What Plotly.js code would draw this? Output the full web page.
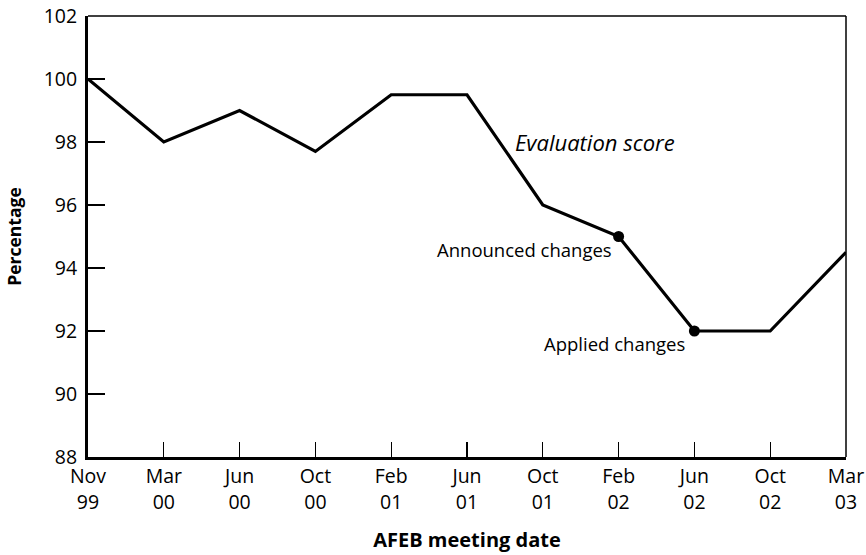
<!DOCTYPE html>
<html>
<head>
<meta charset="utf-8">
<script src="https://cdn.plot.ly/plotly-3.0.1.min.js"></script>
<style>html,body{margin:0;padding:0;background:#fff;}#chart{width:866px;height:555px;}</style>
</head>
<body>
<div id="chart"></div>
<script>
const categories = ["Nov 99","Mar 00","Jun 00","Oct 00","Feb 01","Jun 01","Oct 01","Feb 02","Jun 02","Oct 02","Mar 03"];
const tickLabels = ["Nov<br>99","Mar<br>00","Jun<br>00","Oct<br>00","Feb<br>01","Jun<br>01","Oct<br>01","Feb<br>02","Jun<br>02","Oct<br>02","Mar<br>03"];
const scores = [100, 98, 99, 97.7, 99.5, 99.5, 96, 95, 92, 92, 94.5];
const eventDates = ["Feb 02", "Jun 02"];
const eventScores = [95, 92];
const eventLabels = ["Announced changes", "Applied changes"];

const FONT = "Open Sans, Noto Sans, sans-serif";

const traces = [
  {x: categories, y: scores, type: "scatter", mode: "lines",
   line: {color: "#000", width: 3.2}, hoverinfo: "skip"},
  {x: eventDates, y: eventScores, type: "scatter", mode: "markers",
   marker: {color: "#000", size: 11}, hoverinfo: "skip"}
];

const layout = {
  width: 866, height: 555,
  margin: {l: 88, r: 20, t: 16, b: 98},
  paper_bgcolor: "#fff", plot_bgcolor: "#fff",
  showlegend: false,
  font: {family: FONT, color: "#000", size: 19},
  xaxis: {
    type: "category", categoryorder: "array", categoryarray: categories,
    range: [0, categories.length - 1],
    tickmode: "array", tickvals: categories, ticktext: tickLabels,
    ticks: "inside", ticklen: 15, tickwidth: 1.3, tickcolor: "#000",
    showline: true, linewidth: 3, linecolor: "#000",
    showgrid: false, zeroline: false,
    tickfont: {family: FONT, size: 19.5},
    title: {text: "<b>AFEB meeting date</b>", font: {family: FONT, size: 20}, standoff: 20}
  },
  yaxis: {
    range: [88, 102],
    tickmode: "array", tickvals: [88,90,92,94,96,98,100,102],
    ticks: "inside", ticklen: 17, tickwidth: 1.3, tickcolor: "#000",
    showline: true, linewidth: 3, linecolor: "#000",
    showgrid: false, zeroline: false,
    ticklabelstandoff: 4,
    tickfont: {family: FONT, size: 19.5},
    title: {text: "<b>Percentage</b>", font: {family: FONT, size: 17.5}, standoff: 18}
  },
  shapes: [
    {type: "line", xref: "paper", yref: "paper", x0: 0, x1: 1, y0: 1, y1: 1, line: {color: "#000", width: 1.5}},
    {type: "line", xref: "paper", yref: "paper", x0: 1, x1: 1, y0: 0, y1: 1, line: {color: "#000", width: 1.5}}
  ],
  annotations: [
    {x: 6.69, y: 98.0, xref: "x", yref: "y", text: "<i>Evaluation score</i>", showarrow: false,
     font: {family: FONT, size: 22}},
    {x: eventDates[0], y: eventScores[0], xref: "x", yref: "y", text: eventLabels[0], showarrow: false,
     xanchor: "right", yanchor: "middle", xshift: -5, yshift: -13, font: {family: FONT, size: 18.5}},
    {x: eventDates[1], y: eventScores[1], xref: "x", yref: "y", text: eventLabels[1], showarrow: false,
     xanchor: "right", yanchor: "middle", xshift: -7, yshift: -12, font: {family: FONT, size: 18.5}}
  ]
};

Plotly.newPlot("chart", traces, layout, {displayModeBar: false, staticPlot: true});
</script>
</body>
</html>
